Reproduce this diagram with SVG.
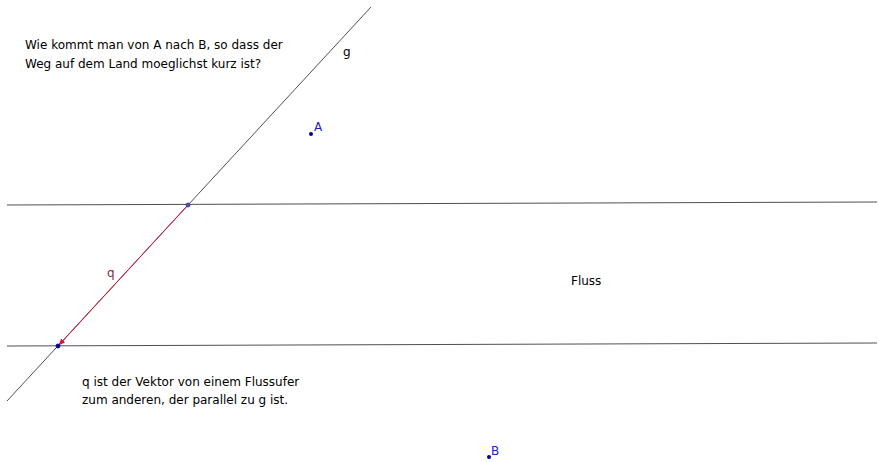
<svg xmlns="http://www.w3.org/2000/svg" width="879" height="462" viewBox="0 0 879 462">
<style>
text{font-family:"DejaVu Sans",sans-serif;font-size:12px;fill:#000}
.ln{stroke:#505050;stroke-width:1;fill:none}
.pt{fill:#0000a0}
.lbl{fill:#1a1ad0}
</style>
<defs>
<marker id="ah" viewBox="0 0 10 10" refX="9" refY="5" markerWidth="7" markerHeight="7" orient="auto" markerUnits="userSpaceOnUse">
<path d="M0,1 L10,5 L0,9 Z" fill="#e0103c"/>
</marker>
</defs>
<rect width="879" height="462" fill="#fff"/>
<g id="connectors">
<line class="ln" x1="7" y1="401" x2="371" y2="7"/>
<line class="ln" x1="7" y1="205" x2="877" y2="202"/>
<line class="ln" x1="7" y1="346" x2="877" y2="343"/>
<line x1="188" y1="205" x2="59" y2="345" stroke="#d4103c" stroke-width="1" marker-end="url(#ah)"/>
</g>
<g id="label-g"><text x="343" y="56">g</text></g>
<g id="label-q"><text x="107" y="277" style="fill:#8a2848">q</text></g>
<g id="P1"><circle cx="188" cy="205" r="2" fill="#5050e0" stroke="#303060" stroke-width="0.8"/></g>
<g id="P2"><circle cx="58" cy="346" r="2" fill="#0000c0" stroke="#000060" stroke-width="0.8"/></g>
<g id="A"><circle class="pt" cx="311" cy="134" r="2"/><text class="lbl" x="314" y="131">A</text></g>
<g id="B"><circle class="pt" cx="489" cy="457" r="2"/><text class="lbl" x="491" y="455">B</text></g>
<g id="question"><text x="25" y="49">Wie kommt man von A nach B, so dass der</text><text x="25" y="68">Weg auf dem Land moeglichst kurz ist?</text></g>
<g id="fluss"><text x="571" y="285">Fluss</text></g>
<g id="note"><text x="82" y="386">q ist der Vektor von einem Flussufer</text><text x="82" y="404">zum anderen, der parallel zu g ist.</text></g>
</svg>
